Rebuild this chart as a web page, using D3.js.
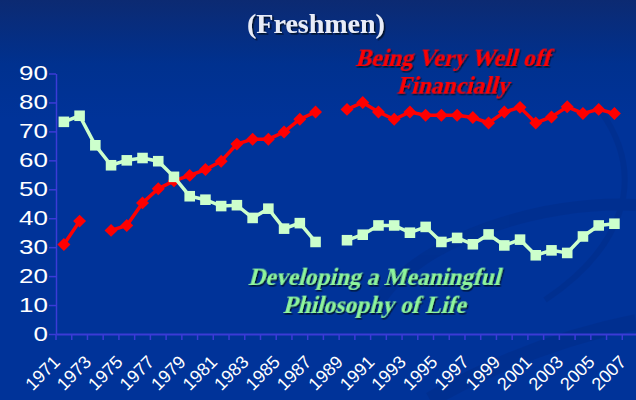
<!DOCTYPE html>
<html>
<head>
<meta charset="utf-8">
<script src="https://cdn.jsdelivr.net/npm/d3@7"></script>
<style>
    body { margin: 0; background: #003399; overflow: hidden; }
    #chart-area svg { display: block; }
</style>
</head>
<body>
<div id="chart-area"></div>
<script>

// survey years on the category axis (last one has no data)
var years = d3.range(1971, 2008);

// tick labels for the x axis, every other year
var yearLabels = years.filter(function(d, i){ return i % 2 === 0; });

// y axis ticks
var yTicks = [0, 10, 20, 30, 40, 50, 60, 70, 80, 90];

// % of freshmen rating the goal "essential or very important"
var wellOff = [30.9, 39.0, null, 35.8, 37.5, 45.3, 50.2, 52.9, 54.8, 56.8,
    59.7, 65.6, 67.3, 67.3, 69.8, 74.2, 76.7, null, 77.6, 80.0,
    76.7, 74.2, 76.7, 75.6, 75.6, 75.6, 74.8, 72.9, 76.7, 78.3,
    72.9, 75.0, 78.5, 76.2, 77.6, 76.2, null];

var philosophy = [73.3, 75.4, 65.2, 58.3, 60.0, 60.8, 59.7, 54.3, 47.6, 46.4,
    44.2, 44.5, 40.1, 43.3, 36.4, 38.3, 31.8, null, 32.4, 34.3,
    37.5, 37.5, 35.0, 37.0, 31.8, 33.2, 31.0, 34.4, 30.6, 32.6,
    27.2, 28.9, 28.0, 33.7, 37.5, 38.1, null];

var seriesNames = [["Being Very Well off", "Financially"], ["Developing a Meaningful", "Philosophy of Life"]];


/*
 * LineVis - Object constructor function
 * @param _parentElement 	-- the HTML element in which to draw the visualization
 */

LineVis = function(_parentElement){
    this.parentElement = _parentElement;
    this.initVis();
}


/*
 * Initialize visualization (background, title, axes)
 */

LineVis.prototype.initVis = function(){
    var vis = this;

    vis.width = 636;
    vis.height = 400;

    vis.svg = d3.select("#" + vis.parentElement).append("svg")
        .attr("width", vis.width)
        .attr("height", vis.height);

    var defs = vis.svg.append("defs");
    var grad = defs.append("linearGradient")
        .attr("id", "bg")
        .attr("x1", 0).attr("y1", 0).attr("x2", 0).attr("y2", 1);
    grad.append("stop").attr("offset", "0%").attr("stop-color", "#0c2a72");
    grad.append("stop").attr("offset", "16%").attr("stop-color", "#00318f");
    grad.append("stop").attr("offset", "30%").attr("stop-color", "#003399");
    grad.append("stop").attr("offset", "100%").attr("stop-color", "#003399");

    // text shadow
    defs.append("filter")
        .attr("id", "shadow")
        .attr("x", "-10%").attr("y", "-20%").attr("width", "130%").attr("height", "150%")
        .append("feDropShadow")
        .attr("dx", 1.6).attr("dy", 1.6)
        .attr("stdDeviation", 0.4)
        .attr("flood-color", "#050a20")
        .attr("flood-opacity", 0.9);

    vis.svg.append("rect")
        .attr("width", vis.width)
        .attr("height", vis.height)
        .attr("fill", "url(#bg)");

    // faint swooshes of the slide template
    var swoosh = vis.svg.append("g").attr("fill", "none").attr("stroke", "#002d8a").attr("opacity", 0.55);
    swoosh.append("path")
        .attr("d", "M380,300 C420,240 540,200 636,205")
        .attr("stroke-width", 12);
    swoosh.append("path")
        .attr("d", "M600,110 C650,180 620,250 545,300")
        .attr("stroke-width", 6);
    swoosh.append("path")
        .attr("d", "M430,400 C500,360 570,335 636,322")
        .attr("stroke-width", 16);

    // title
    vis.svg.append("text")
        .attr("x", 316)
        .attr("y", 33)
        .attr("font-family", "'Liberation Serif', 'Times New Roman', serif")
        .attr("font-weight", "bold")
        .attr("font-size", "28px")
        .attr("text-anchor", "middle")
        .attr("fill", "#e8ecf8")
        .attr("filter", "url(#shadow)")
        .text("(Freshmen)");

    vis.x = d3.scaleBand()
        .domain(years)
        .range([56, 56 + years.length * 15.73])
        .padding(0);

    vis.y = d3.scaleLinear()
        .domain([0, 90])
        .range([334, 73.5]);

    vis.axisColor = "#3b3bd6";

    // y axis
    vis.yAxis = d3.axisLeft(vis.y)
        .tickValues(yTicks)
        .tickSize(7)
        .tickSizeOuter(0);

    var yg = vis.svg.append("g")
        .attr("class", "y-axis")
        .attr("transform", "translate(56,0)")
        .call(vis.yAxis);
    yg.selectAll("path, line").attr("stroke", vis.axisColor).attr("stroke-width", 1.5);
    yg.selectAll("text")
        .attr("fill", "#ffffff")
        .attr("font-family", "'Liberation Sans', Arial, sans-serif")
        .attr("font-size", "20px")
        .attr("x", 0)
        .attr("transform", "translate(-8,0) scale(1.3,1)");

    // x axis: labels under the bands, tick marks on band edges
    vis.xAxis = d3.axisBottom(vis.x)
        .tickValues(yearLabels)
        .tickSize(0)
        .tickSizeOuter(0);

    var xg = vis.svg.append("g")
        .attr("class", "x-axis")
        .attr("transform", "translate(0,334)")
        .call(vis.xAxis);
    xg.select(".domain").attr("stroke", vis.axisColor).attr("stroke-width", 2);
    xg.selectAll("text")
        .attr("fill", "#ffffff")
        .attr("font-family", "'Liberation Sans', Arial, sans-serif")
        .attr("font-size", "18px")
        .style("text-anchor", "end")
        .attr("dx", 0)
        .attr("dy", 0)
        .attr("transform", "translate(-5,27) rotate(-45)");

    xg.selectAll(".edge")
        .data(years)
        .enter().append("line")
        .attr("class", "edge")
        .attr("x1", function(d){ return vis.x(d); })
        .attr("x2", function(d){ return vis.x(d); })
        .attr("y1", 0)
        .attr("y2", 6)
        .attr("stroke", vis.axisColor)
        .attr("stroke-width", 1.5);

    vis.wrangleData();
}


/*
 * Data wrangling
 */

LineVis.prototype.wrangleData = function(){
    var vis = this;

    vis.series = [
        { name: seriesNames[0], color: "#ff0000", marker: "diamond",
          values: years.map(function(d, i){ return { year: d, v: wellOff[i] }; }) },
        { name: seriesNames[1], color: "#ccffcc", marker: "square",
          values: years.map(function(d, i){ return { year: d, v: philosophy[i] }; }) }
    ];

    vis.updateVis();
}


/*
 * The drawing function
 */

LineVis.prototype.updateVis = function(){
    var vis = this;
    var half = vis.x.bandwidth() / 2;

    var line = d3.line()
        .defined(function(d){ return d.v !== null; })
        .x(function(d){ return vis.x(d.year) + half; })
        .y(function(d){ return vis.y(d.v); });

    vis.series.forEach(function(s){
        var g = vis.svg.append("g");

        g.append("path")
            .datum(s.values)
            .attr("fill", "none")
            .attr("stroke", s.color)
            .attr("stroke-width", 3.5)
            .attr("d", line);

        var sym = s.marker === "diamond"
            ? d3.symbol().type(d3.symbolSquare).size(84)
            : d3.symbol().type(d3.symbolSquare).size(112);

        g.selectAll(".marker")
            .data(s.values.filter(function(d){ return d.v !== null; }))
            .enter().append("path")
            .attr("class", "marker")
            .attr("d", sym)
            .attr("fill", s.color)
            .attr("transform", function(d){
                return "translate(" + (vis.x(d.year) + half) + "," + vis.y(d.v) + ")"
                    + (s.marker === "diamond" ? " rotate(45)" : "");
            });
    });

    // series captions: bold serif slanted by hand (no regular serif face here)
    var captions = [
        { lines: seriesNames[0], color: "#ff0000", x: 452.5, y: [66, 93.5] },
        { lines: seriesNames[1], color: "#8ef59c", x: 374, y: [285, 313] }
    ];

    captions.forEach(function(c){
        c.lines.forEach(function(t, i){
            vis.svg.append("g")
                .attr("transform", "translate(" + c.x + "," + c.y[i] + ") skewX(-15)")
                .append("text")
                .attr("font-family", "'Liberation Serif', 'Times New Roman', serif")
                .attr("font-weight", "bold")
                .attr("font-size", "23.5px")
                .attr("text-anchor", "middle")
                .attr("fill", c.color)
                .attr("filter", "url(#shadow)")
                .text(t);
        });
    });
}

var lineVis = new LineVis("chart-area");

</script>
</body>
</html>
